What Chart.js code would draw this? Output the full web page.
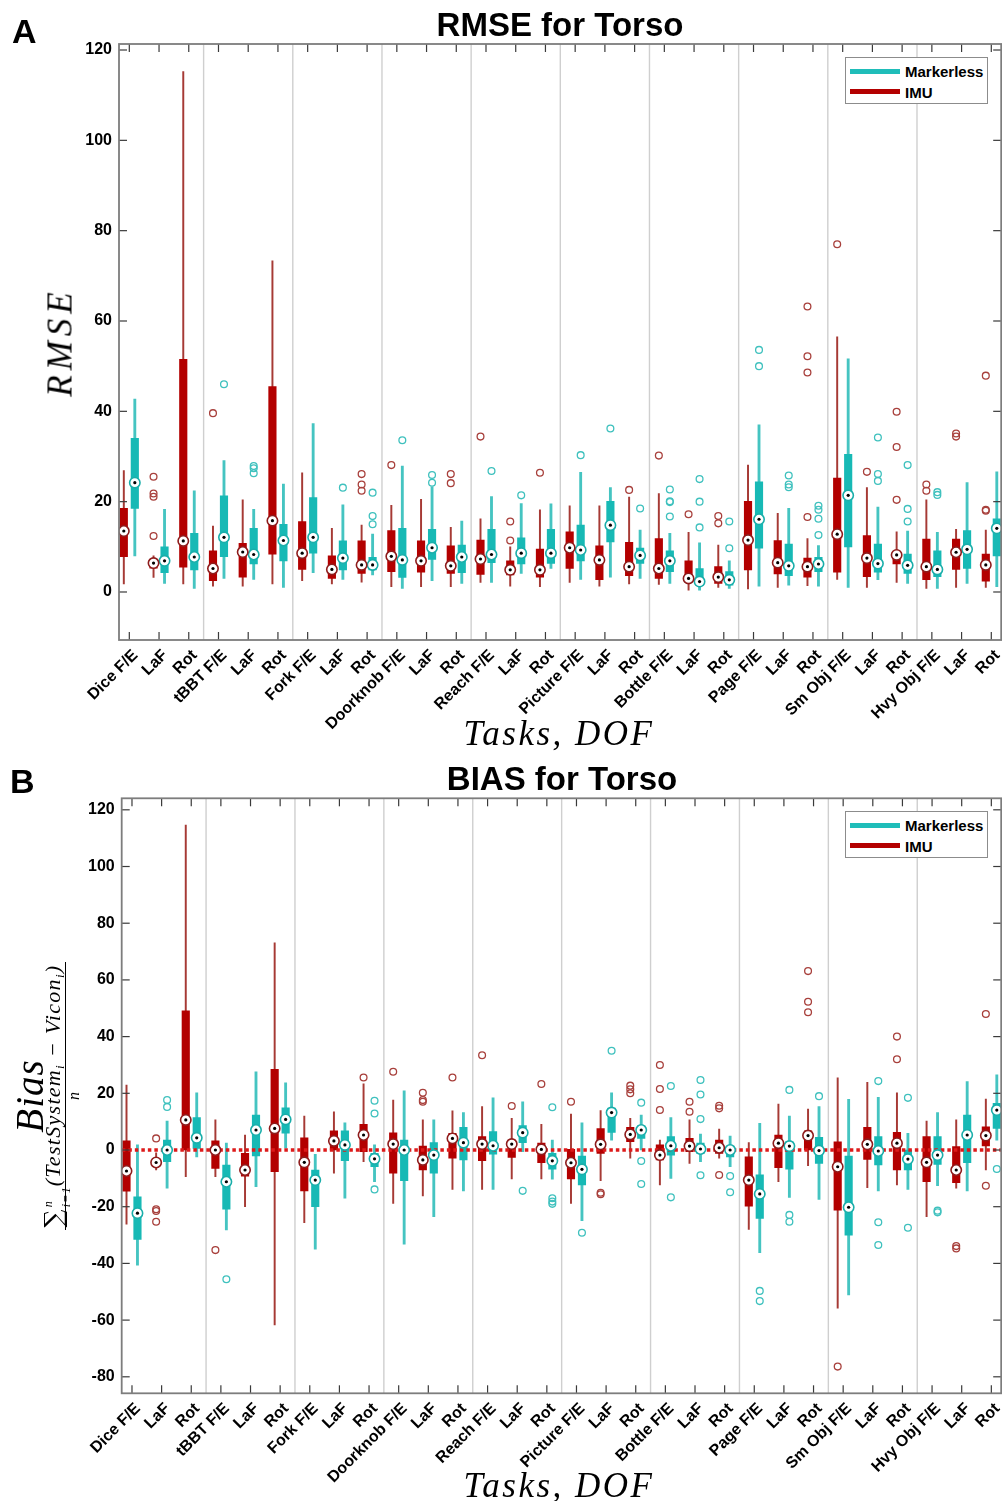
<!DOCTYPE html>
<html><head><meta charset="utf-8">
<script src="https://cdn.jsdelivr.net/npm/chart.js@4.4.1/dist/chart.umd.min.js"></script>
<style>
html,body{margin:0;padding:0;background:#fff}
#wrap{position:relative;width:1002px;height:1501px;overflow:hidden;background:#fff}
canvas{position:absolute;left:0}
.t{position:absolute;font-family:'Liberation Sans',Arial,sans-serif;font-weight:bold;white-space:nowrap;color:#000}
.title{font-size:33px;line-height:33px;transform:translateX(-50%)}
.panel{font-size:34px;line-height:34px}
.legend{position:absolute;left:845px;width:143px;height:47px;border:1px solid #8c8c8c;background:#fff;box-sizing:border-box}
.legend .sw{position:absolute;left:4px;width:50px;height:5px}
.legend .lt{position:absolute;left:59px;font:bold 15px/15px 'Liberation Sans',Arial,sans-serif;color:#000;white-space:nowrap}
.math{position:absolute;font-family:'Liberation Serif','Times New Roman',serif;font-style:italic;white-space:nowrap;color:#000}
.rot{transform:translate(-50%,-50%) rotate(-90deg)}
#ytB{position:absolute;left:10px;top:1256px;width:320px;transform-origin:0 0;transform:rotate(-90deg);text-align:center;font-family:'Liberation Serif','Times New Roman',serif;font-style:italic;color:#000;white-space:nowrap}
#ytB .bias{font-size:39px;line-height:39px;height:39px;letter-spacing:1px}
#ytB .frac{display:inline-block;margin-top:-7.5px;text-align:center}
#ytB .num{font-size:22px;line-height:22px;height:22px;padding:0 3px 1px 3px;border-bottom:1.3px solid #000;letter-spacing:1.3px}
#ytB .den{font-size:16px;line-height:16px;height:16px}
#ytB .sum{font-style:normal;font-family:'DejaVu Serif',serif;font-size:25px;line-height:0;vertical-align:-2px}
#ytB .lims{display:inline-block;position:relative;width:22px;height:0;line-height:0;font-size:12px}
#ytB .lims span{position:absolute;left:1px;line-height:12px}
#ytB sub{font-size:13px;line-height:0;vertical-align:-4px}
</style></head>
<body><div id="wrap">
<canvas id="cA" width="1008" height="750" style="top:0"></canvas>
<canvas id="cB" width="1008" height="751" style="top:750px"></canvas>

<div class="t panel" style="left:12px;top:14px">A</div>
<div class="t title" style="left:560px;top:8px">RMSE for Torso</div>
<div class="t panel" style="left:10px;top:764px">B</div>
<div class="t title" style="left:562px;top:762px">BIAS for Torso</div>

<div class="legend" style="top:57px">
  <div class="sw" style="top:11px;background:#1fbdb9"></div><div class="lt" style="top:6px">Markerless</div>
  <div class="sw" style="top:31px;background:#b40000"></div><div class="lt" style="top:27px">IMU</div>
</div>
<div class="legend" style="top:811px">
  <div class="sw" style="top:11px;background:#1fbdb9"></div><div class="lt" style="top:6px">Markerless</div>
  <div class="sw" style="top:31px;background:#b40000"></div><div class="lt" style="top:27px">IMU</div>
</div>

<div class="math rot" style="left:60px;top:342px;font-size:35px;line-height:35px;letter-spacing:5px">RMSE</div>
<div class="math" style="left:559px;top:716px;font-size:35px;line-height:35px;letter-spacing:2.5px;transform:translateX(-50%)">Tasks, DOF</div>
<div class="math" style="left:559px;top:1468px;font-size:35px;line-height:35px;letter-spacing:2.5px;transform:translateX(-50%)">Tasks, DOF</div>

<div id="ytB">
  <div class="bias">Bias</div>
  <div class="frac">
    <div class="num"><span class="sum">∑</span><span class="lims"><span style="top:-18px">n</span><span style="top:0px">i=1</span></span>(TestSystem<sub>i</sub> − Vicon<sub>i</sub>)</div>
    <div class="den">n</div>
  </div>
</div>
</div>
<script>
// ---------------- data ----------------
const categories = ['Dice F/E','LaF','Rot','tBBT F/E','LaF','Rot','Fork F/E','LaF','Rot','Doorknob F/E','LaF','Rot','Reach F/E','LaF','Rot','Picture F/E','LaF','Rot','Bottle F/E','LaF','Rot','Page F/E','LaF','Rot','Sm Obj F/E','LaF','Rot','Hvy Obj F/E','LaF','Rot'];
const groupDividers = [2.5,5.5,8.5,11.5,14.5,17.5,20.5,23.5,26.5];
const rmseTicks = [0,20,40,60,80,100,120];
const biasTicks = [-80,-60,-40,-20,0,20,40,60,80,100,120];

// box stats: [lower whisker, Q1, median, Q3, upper whisker]
const rmseImuBox = [
 [1.8,7.8,13.5,18.5,26.9],[3.2,5.3,6.4,7.2,8.0],[1.8,5.5,11.3,51.5,115.2],
 [1.3,2.5,5.2,9.1,14.6],[1.3,3.3,8.85,10.8,20.4],[1.8,8.4,15.8,45.5,73.3],
 [2.5,5.0,8.6,15.6,26.4],[1.8,3.0,5.0,8.0,14.1],[2.2,4.1,6.0,11.3,14.8],
 [1.2,4.5,7.9,13.6,19.2],[1.2,4.4,6.9,11.3,20.5],[1.2,4.1,5.8,10.2,14.3],
 [2.1,3.9,7.3,11.5,16.2],[1.3,3.8,4.9,6.9,10.0],[1.2,3.3,4.9,9.5,18.2],
 [2.1,5.2,9.8,13.3,19.1],[1.3,2.7,7.1,10.2,19.1],[1.8,3.6,5.6,11.0,21.0],
 [1.7,3.0,5.2,11.8,21.8],[0.4,2.3,3.0,6.9,13.2],[1.0,1.9,3.3,5.6,10.4],
 [0.7,4.9,11.5,20.1,28.1],[1.0,4.0,6.5,11.4,17.4],[1.4,3.3,5.6,7.5,11.8],
 [2.8,4.4,12.8,25.2,56.5],[1.0,3.4,7.5,12.5,23.1],[2.1,6.2,8.2,8.6,13.3],
 [0.8,2.7,5.6,11.7,20.4],[1.0,5.0,8.8,11.7,13.9],[1.0,2.4,6.0,8.4,13.7]];
const rmseImuOut = [[],[25.5,21.8,21.1,12.4],[],[39.6],[],[],[],[],[26.1,23.8,22.4],
 [28.1],[],[26.1,24.1],[34.4],[15.6,11.4],[26.4],[],[],[22.6],[30.2],[17.2],[16.8,15.2],
 [],[],[63.2,52.2,48.6,16.6],[77.0],[26.6],[39.9,32.1,20.4],[23.8,22.4],[35.1,34.4],[47.9,18.2,18.0]];
const rmseMlBox = [
 [8.0,18.5,24.2,34.0,42.7],[1.9,4.3,6.9,10.0,18.3],[0.8,4.9,7.75,13.0,22.4],
 [3.0,7.8,12.1,21.3,29.1],[2.8,6.2,8.3,14.1,18.3],[1.0,6.9,11.4,15.0,23.9],
 [4.3,8.6,12.1,20.9,37.3],[2.8,4.9,7.5,11.3,19.3],[3.8,4.9,6.0,7.7,12.8],
 [0.8,3.2,7.1,14.1,27.9],[2.5,7.2,9.8,13.9,23.3],[1.9,4.3,7.75,10.4,15.7],
 [2.1,6.5,8.3,13.9,21.1],[4.1,6.2,8.6,12.0,19.6],[5.2,6.35,8.6,13.9,19.5],
 [2.8,6.9,9.3,14.8,26.5],[3.3,11.1,14.8,20.1,23.1],[3.0,6.35,8.1,9.7,13.7],
 [1.9,4.5,6.9,9.1,13.0],[0.4,1.5,2.3,5.2,10.9],[0.8,1.5,2.7,4.5,6.9],
 [1.3,9.7,16.1,24.4,37.0],[1.5,3.6,5.8,10.6,18.5],[1.3,4.5,6.2,7.7,10.3],
 [1.0,10.0,21.4,30.5,51.6],[2.7,4.4,6.3,10.6,18.8],[1.9,4.1,5.9,8.4,13.5],
 [0.8,3.4,5.0,9.1,13.2],[1.9,5.2,9.45,13.6,24.2],[1.2,8.0,14.1,16.2,26.6]];
const rmseMlOut = [[],[],[],[46.0],[27.9,27.4,26.3],[],[],[23.1],[22.0,16.8,15.0],
 [33.6],[25.9,24.2],[],[26.8],[21.4],[],[30.3],[36.2],[18.5],[22.7,20.1,19.9,16.7],
 [25.0,20.0,14.3],[15.6,9.7],[53.6,50.0],[25.8,23.8,23.2],[19.1,18.2,16.2,12.6],[],
 [34.2,26.1,24.6],[28.1,18.4,15.6],[22.1,21.5],[],[]];

const biasImuBox = [
 [-26.2,-14.5,-7.4,3.2,22.9],[-7.0,-5.5,-4.4,-3.0,-1.0],[-9.4,0.0,10.6,49.1,114.6],
 [-9.4,-6.5,0.0,3.2,10.6],[-20.0,-9.2,-7.05,-1.2,5.3],[-61.7,-7.6,7.6,28.5,73.1],
 [-25.6,-14.4,-4.35,4.3,12.0],[-8.2,0.0,3.2,6.8,13.5],[-4.1,-0.6,5.3,9.1,23.3],
 [-18.8,-8.2,2.1,6.1,17.6],[-16.2,-7.05,-3.5,1.4,10.6],[-13.9,-2.9,4.1,5.9,13.8],
 [-13.9,-3.8,2.1,4.7,15.3],[-10.2,-2.6,2.1,3.5,11.2],[-10.2,-4.5,0.2,2.4,9.1],
 [-18.8,-10.2,-4.5,0.2,12.7],[-10.8,-1.2,2.0,7.6,13.9],[-2.9,2.9,5.5,8.0,11.2],
 [-12.3,-3.5,-1.8,1.8,3.5],[-4.7,-0.6,1.4,4.1,10.6],[-2.9,-1.2,0.8,3.5,7.4],
 [-28.0,-19.8,-10.6,-2.4,2.6],[-11.2,-6.2,2.4,5.3,16.2],[-5.5,0.0,5.1,6.8,14.4],
 [-55.8,-21.2,-5.9,2.9,25.5],[-13.3,-3.3,2.0,8.0,23.9],[-12.3,-7.05,2.4,6.2,20.2],
 [-23.5,-11.2,-4.35,4.7,10.2],[-13.5,-11.5,-7.05,1.2,10.6],[-7.05,1.4,5.1,8.2,18.0]];
const biasImuOut = [[],[4.1,-20.9,-21.5,-25.3],[],[-35.3],[],[],[],[],[25.6],[27.6],
 [20.2,17.6,17.0],[25.6],[33.4],[15.5],[23.3],[17.0],[-15.1,-15.6],[22.7,21.4,20.0],
 [30.0,21.5,14.1],[17.0,13.5],[15.6,14.7,-8.8],[],[],[63.1,52.3,48.6],[-76.4],[],
 [40.0,32.0],[],[-33.9,-34.7],[48.0,-12.6]];
const biasMlBox = [
 [-40.6,-31.5,-22.3,-16.5,1.8],[-13.5,-4.1,0.0,3.5,10.2],[-2.4,0.6,4.3,11.4,20.2],
 [-28.2,-20.9,-11.2,-5.3,2.4],[-12.9,-2.1,7.05,12.3,27.6],[0.7,5.9,10.8,14.9,23.7],
 [-35.0,-20.0,-10.6,-7.05,-1.5],[-17.0,-3.8,1.8,6.8,9.6],[-11.2,-5.9,-3.1,-1.2,1.8],
 [-33.2,-10.8,0.0,3.5,20.9],[-23.5,-8.2,-1.8,2.6,10.6],[-14.4,-3.5,2.6,8.0,13.2],
 [-13.9,-1.5,1.5,6.5,18.4],[-0.6,2.6,6.1,8.6,17.0],[-10.3,-6.8,-3.8,-1.2,3.5],
 [-24.9,-12.3,-6.8,-2.1,9.6],[3.5,6.2,13.2,14.8,20.2],[0.0,4.1,7.05,8.5,12.3],
 [-10.0,-1.8,1.5,4.7,11.4],[-4.1,-1.2,0.35,2.4,5.6],[-5.9,-2.4,0.0,1.4,4.9],
 [-36.2,-24.1,-15.5,-8.8,9.4],[-16.7,-6.8,1.4,2.9,12.0],[-17.4,-4.7,-0.2,4.5,15.3],
 [-51.1,-30.0,-20.2,-2.1,17.9],[-14.4,-5.3,-0.35,4.7,18.6],[-13.9,-7.05,-3.2,0.0,5.9],
 [-12.6,-5.05,-1.8,4.7,13.2],[-14.4,-4.5,5.3,12.3,24.1],[3.5,7.65,14.1,16.5,26.5]];
const biasMlOut = [[],[17.6,15.2],[],[-45.6],[],[],[],[],[17.4,12.9,-13.9],[],[],[],[],
 [-14.4],[15.1,-17.0,-18.2,-19.0],[-29.2],[35.0],[16.7,-3.9,-12.0],[22.6,-16.7],
 [24.7,19.6,10.9,-8.9],[-9.2,-14.9],[-49.7,-53.3],[21.2,-22.9,-25.3],[19.0],[],
 [24.3,-25.5,-33.5],[18.4,-27.4],[-21.4,-22.0],[],[-6.7]];

// ---------------- styles ----------------
const IMU = {fill:'#b30000', whisk:'#a63a35', out:'#a8403c', med:'#8e1c1c', wW:1.3, off:-0.185};
const ML  = {fill:'#17b9b5', whisk:'#45c4c1', out:'#3fc1be', med:'#1aaeaa', wW:2.2, off:0.185};

const framePlugin = {
  id:'frame',
  beforeDatasetsDraw(chart){
    const {ctx, chartArea:a, scales:{x}} = chart;
    ctx.save(); ctx.strokeStyle='#cfcfcf'; ctx.lineWidth=1.4;
    groupDividers.forEach(v=>{const px=x.getPixelForValue(v); ctx.beginPath(); ctx.moveTo(px,a.top); ctx.lineTo(px,a.bottom); ctx.stroke();});
    ctx.restore();
  },
  afterDraw(chart){
    const {ctx, chartArea:a, scales:{x,y}} = chart;
    ctx.save(); ctx.strokeStyle='#3a3a3a'; ctx.lineWidth=1.2;
    const ln=(x1,y1,x2,y2)=>{ctx.beginPath();ctx.moveTo(x1,y1);ctx.lineTo(x2,y2);ctx.stroke();};
    x.ticks.forEach(t=>{const px=x.getPixelForValue(t.value); ln(px,a.bottom,px,a.bottom-8); ln(px,a.top,px,a.top+8);});
    y.ticks.forEach(t=>{const py=y.getPixelForValue(t.value); ln(a.left,py,a.left+8,py); ln(a.right,py,a.right-8,py);});
    ctx.strokeStyle='#7d7d7d'; ctx.lineWidth=1.8;
    ctx.strokeRect(a.left,a.top,a.right-a.left,a.bottom-a.top);
    ctx.restore();
  }
};

function buildChart(id, p){
  const ds=[];
  [[IMU,p.imuBox,p.imuOut],[ML,p.mlBox,p.mlOut]].forEach(([s,box,out])=>{
    ds.push({type:'bar', data:box.map((b,i)=>({x:i+s.off,y:[b[0],b[4]]})), backgroundColor:s.whisk, barThickness:s.wW, grouped:false, borderWidth:0, order:6});
    ds.push({type:'bar', data:box.map((b,i)=>({x:i+s.off,y:[b[1],b[3]]})), backgroundColor:s.fill, barThickness:7.5, grouped:false, borderWidth:0, order:5});
    ds.push({type:'scatter', data:out.flatMap((arr,i)=>arr.map(v=>({x:i+s.off,y:v}))), pointStyle:'circle', pointRadius:3.4, pointBackgroundColor:'rgba(0,0,0,0)', pointBorderColor:s.out, pointBorderWidth:1.3, order:4});
    ds.push({type:'scatter', data:box.map((b,i)=>({x:i+s.off,y:b[2]})), pointRadius:5.2, pointBackgroundColor:'#ffffff', pointBorderColor:s.med, pointBorderWidth:1.6, order:2});
    ds.push({type:'scatter', data:box.map((b,i)=>({x:i+s.off,y:b[2]})), pointRadius:1.6, pointBackgroundColor:'#000000', pointBorderWidth:0, order:1});
  });
  if(p.zeroLine){
    ds.push({type:'line', data:[{x:-1,y:0},{x:30,y:0}], borderColor:'#dd1a1a', borderWidth:3.5, borderDash:[3.5,3], pointRadius:0, order:3});
  }
  return new Chart(document.getElementById(id),{
    type:'bar',
    data:{datasets:ds},
    plugins:[framePlugin],
    options:{
      responsive:false, animation:false, events:[],
      layout:{padding:{top:p.top,right:0.2,left:0,bottom:0}},
      plugins:{legend:{display:false},tooltip:{enabled:false}},
      scales:{
        x:{type:'linear',min:-0.347,max:29.333,offset:false,
          afterBuildTicks:s=>{s.ticks=categories.map((c,i)=>({value:i}));},
          afterFit:s=>{s.height=p.xH;s.paddingLeft=0;s.paddingRight=0;},
          grid:{display:false,drawTicks:false},border:{display:false},
          ticks:{autoSkip:false,minRotation:45,maxRotation:45,padding:6,labelOffset:6,color:'#000',
            font:{family:'Liberation Sans',size:16,weight:'bold'},callback:v=>categories[v]}},
        y:{type:'linear',min:p.yMin,max:p.yMax,
          afterBuildTicks:s=>{s.ticks=p.yTicks.map(v=>({value:v}));},
          afterFit:s=>{s.width=p.yW;s.paddingTop=0;s.paddingBottom=0;},
          grid:{display:false,drawTicks:false},border:{display:false},
          ticks:{padding:7,color:'#000',font:{family:'Liberation Sans',size:16,weight:'bold'}}}
      }
    }
  });
}

buildChart('cA',{imuBox:rmseImuBox,imuOut:rmseImuOut,mlBox:rmseMlBox,mlOut:rmseMlOut,
  yMin:-10.63,yMax:121.33,yTicks:rmseTicks,top:44,xH:110,yW:119,zeroLine:false});
buildChart('cB',{imuBox:biasImuBox,imuOut:biasImuOut,mlBox:biasMlBox,mlOut:biasMlOut,
  yMin:-85.82,yMax:124.06,yTicks:biasTicks,top:48.3,xH:107.7,yW:121.7,zeroLine:true});
</script>
</body></html>
